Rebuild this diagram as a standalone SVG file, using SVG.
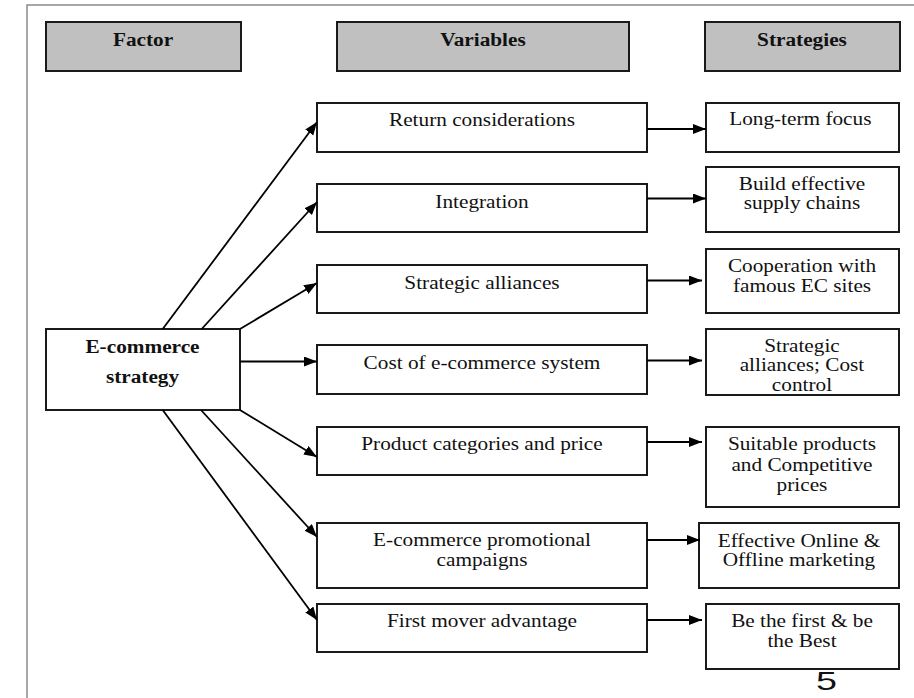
<svg xmlns="http://www.w3.org/2000/svg" width="914" height="698" viewBox="0 0 914 698">
<style>
  .frame { stroke: #8a8a8a; stroke-width: 1.5; fill: none; }
  .hdr { fill: #c0c0c0; stroke: #1a1a1a; stroke-width: 2; }
  .box { fill: #ffffff; stroke: #1a1a1a; stroke-width: 2; }
  .t { font-family: "Liberation Serif", "Times New Roman", serif; font-size: 19px; fill: #111; text-anchor: middle; }
  .b { font-weight: bold; }
  .conn line { stroke: #000; stroke-width: 1.8; marker-end: url(#arr); }
  .pg { font-family: "Liberation Sans", Arial, sans-serif; font-size: 26px; fill: #111; text-anchor: middle; }
</style>
<defs>
  <marker id="arr" markerUnits="userSpaceOnUse" markerWidth="14" markerHeight="11" refX="13" refY="5" orient="auto">
    <path d="M0,0 L13,5 L0,10 z" fill="#000"/>
  </marker>
</defs>
<rect width="914" height="698" fill="#ffffff"/>
<path class="frame" d="M27,698 L27,5 L914,5"/>

<g id="hdr-factor"><rect class="hdr" x="46" y="22" width="195" height="49"/><text class="t b" x="143" y="46" transform="matrix(1.12,0,0,1,-17.16,0)">Factor</text></g>
<g id="hdr-variables"><rect class="hdr" x="337" y="22" width="292" height="49"/><text class="t b" x="483" y="46" transform="matrix(1.12,0,0,1,-57.96,0)">Variables</text></g>
<g id="hdr-strategies"><rect class="hdr" x="705" y="22" width="195" height="49"/><text class="t b" x="802" y="46" transform="matrix(1.12,0,0,1,-96.24,0)">Strategies</text></g>

<g id="factor-ecommerce"><rect class="box" x="46" y="329" width="194" height="81"/>
  <g transform="matrix(1.12,0,0,1,-17.1,0)">
  <text class="t b" x="142.5" y="353">E-commerce</text>
  <text class="t b" x="142.5" y="383">strategy</text></g></g>

<g id="var-return"><rect class="box" x="317" y="103" width="330" height="49"/><text class="t" x="482" y="126.5" transform="matrix(1.12,0,0,1,-57.84,0)">Return considerations</text></g>
<g id="var-integration"><rect class="box" x="317" y="184" width="330" height="48"/><text class="t" x="482" y="208" transform="matrix(1.12,0,0,1,-57.84,0)">Integration</text></g>
<g id="var-alliances"><rect class="box" x="317" y="265" width="330" height="48"/><text class="t" x="482" y="289" transform="matrix(1.12,0,0,1,-57.84,0)">Strategic alliances</text></g>
<g id="var-cost"><rect class="box" x="317" y="345" width="330" height="49"/><text class="t" x="482" y="369" transform="matrix(1.12,0,0,1,-57.84,0)">Cost of e-commerce system</text></g>
<g id="var-product"><rect class="box" x="317" y="427" width="330" height="48"/><text class="t" x="482" y="450" transform="matrix(1.12,0,0,1,-57.84,0)">Product categories and price</text></g>
<g id="var-promo"><rect class="box" x="317" y="523" width="330" height="65"/>
  <g transform="matrix(1.12,0,0,1,-57.84,0)">
  <text class="t" x="482" y="546.5">E-commerce promotional</text>
  <text class="t" x="482" y="566">campaigns</text></g></g>
<g id="var-firstmover"><rect class="box" x="317" y="604" width="330" height="48"/><text class="t" x="482" y="627" transform="matrix(1.12,0,0,1,-57.84,0)">First mover advantage</text></g>

<g id="str-longterm"><rect class="box" x="706" y="103" width="193" height="49"/><text class="t" x="800.5" y="125.5" transform="matrix(1.12,0,0,1,-96.24,0)">Long-term focus</text></g>
<g id="str-supply"><rect class="box" x="706" y="167" width="193" height="65"/>
  <g transform="matrix(1.12,0,0,1,-96.24,0)">
  <text class="t" x="802" y="190.5">Build effective</text>
  <text class="t" x="802" y="209.5">supply chains</text></g></g>
<g id="str-coop"><rect class="box" x="706" y="249" width="193" height="64"/>
  <g transform="matrix(1.12,0,0,1,-96.24,0)">
  <text class="t" x="802" y="272.5">Cooperation with</text>
  <text class="t" x="802" y="292">famous EC sites</text></g></g>
<g id="str-costctl"><rect class="box" x="706" y="329" width="193" height="66"/>
  <g transform="matrix(1.12,0,0,1,-96.24,0)">
  <text class="t" x="802" y="352">Strategic</text>
  <text class="t" x="802" y="371.5">alliances; Cost</text>
  <text class="t" x="802" y="391">control</text></g></g>
<g id="str-products"><rect class="box" x="706" y="427" width="193" height="80"/>
  <g transform="matrix(1.12,0,0,1,-96.24,0)">
  <text class="t" x="802" y="450">Suitable products</text>
  <text class="t" x="802" y="471">and Competitive</text>
  <text class="t" x="802" y="491.5">prices</text></g></g>
<g id="str-marketing"><rect class="box" x="699" y="523" width="200" height="65"/>
  <g transform="matrix(1.12,0,0,1,-96.24,0)">
  <text class="t" x="799.3" y="547">Effective Online &amp;</text>
  <text class="t" x="799.3" y="566.5">Offline marketing</text></g></g>
<g id="str-best"><rect class="box" x="706" y="604" width="193" height="65"/>
  <g transform="matrix(1.12,0,0,1,-96.24,0)">
  <text class="t" x="802" y="627">Be the first &amp; be</text>
  <text class="t" x="802" y="647">the Best</text></g></g>

<g id="connectors" class="conn">
  <line x1="162.7" y1="329" x2="317" y2="122"/>
  <line x1="201.7" y1="329" x2="317" y2="202"/>
  <line x1="240" y1="329" x2="317" y2="283"/>
  <line x1="240" y1="361.5" x2="317" y2="361.5"/>
  <line x1="240" y1="410" x2="317" y2="457"/>
  <line x1="201" y1="410" x2="317" y2="537"/>
  <line x1="162.7" y1="410" x2="317" y2="620"/>
  <line x1="647" y1="129" x2="706" y2="129"/>
  <line x1="647" y1="198.5" x2="706" y2="198.5"/>
  <line x1="647" y1="280.5" x2="702" y2="280.5"/>
  <line x1="647" y1="360.5" x2="702" y2="360.5"/>
  <line x1="647" y1="442" x2="702" y2="442"/>
  <line x1="647" y1="540" x2="700" y2="540"/>
  <line x1="647" y1="620" x2="702" y2="620"/>
</g>

<text class="pg" x="826.5" y="690" textLength="21" lengthAdjust="spacingAndGlyphs">5</text>
</svg>
